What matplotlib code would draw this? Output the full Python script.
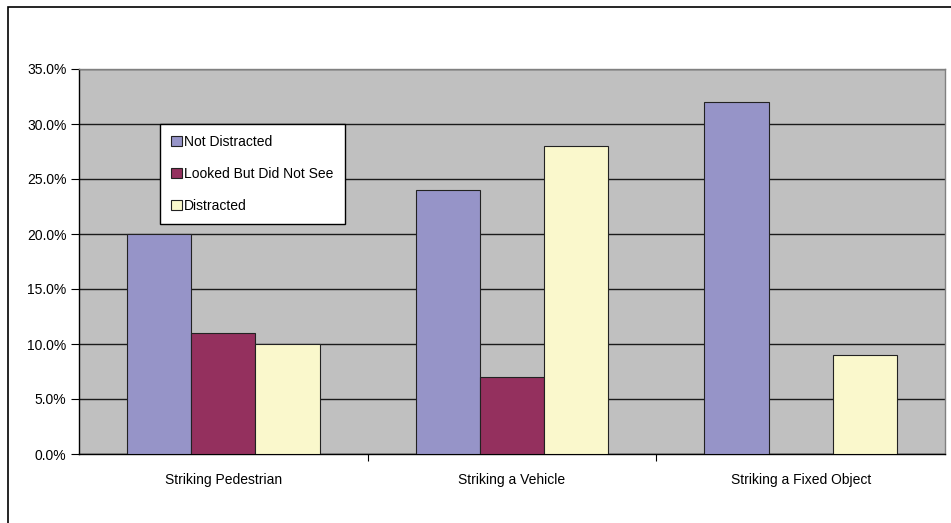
import numpy as np
import matplotlib.pyplot as plt
from matplotlib.patches import Rectangle
from matplotlib.ticker import FuncFormatter

plt.rcParams['font.family'] = ['Liberation Sans', 'DejaVu Sans']

categories = ['Striking Pedestrian', 'Striking a Vehicle', 'Striking a Fixed Object']
series = ['Not Distracted', 'Looked But Did Not See', 'Distracted']
not_distracted = [20.0, 24.0, 32.0]
looked_not_see = [11.0, 7.0, 0.0]
distracted = [10.0, 28.0, 9.0]
colors = ['#9694C8', '#94305E', '#FAF8CC']

W, H = 951, 523
fig = plt.figure(figsize=(W / 100, H / 100), dpi=100)
fig.patch.set_facecolor('white')

# chart frame
fig.patches.append(Rectangle((8 / W, -0.1), 1.2, 1 - 7 / H + 0.1,
                             transform=fig.transFigure, fill=False,
                             edgecolor='black', linewidth=1.2))

ax = fig.add_axes([79 / W, 1 - 454 / H, (945 - 79) / W, (454 - 69) / H])
ax.set_facecolor('#C0C0C0')

x = np.arange(len(categories))
bw = 1 / 4.5
for i, (vals, name, c) in enumerate(zip([not_distracted, looked_not_see, distracted], series, colors)):
    ax.bar(x + (i - 1) * bw, vals, bw, color=c, edgecolor='#222222',
           linewidth=0.8, label=name, zorder=3)

ax.set_xlim(-0.5, len(categories) - 0.5)
ax.set_ylim(0, 35)
ax.set_yticks(np.arange(0, 36, 5))
ax.yaxis.set_major_formatter(FuncFormatter(lambda v, p: '%.1f%%' % v))
ax.yaxis.grid(True, color='#1a1a1a', linewidth=1.0, zorder=1)
ax.set_axisbelow(True)

ax.set_xticks(x)
ax.set_xticklabels(categories)
ax.set_xticks(np.arange(0.5, len(categories) - 0.5, 1), minor=True)
ax.tick_params(axis='x', which='major', length=0, pad=14, labelsize=10)
ax.tick_params(axis='x', which='minor', length=5, width=0.8, direction='out')
ax.tick_params(axis='y', length=6, width=0.8, pad=3, labelsize=10)

for s in ['left', 'bottom']:
    ax.spines[s].set_color('black')
    ax.spines[s].set_linewidth(1.0)
for s in ['top', 'right']:
    ax.spines[s].set_color('#808080')
    ax.spines[s].set_linewidth(1.0)

leg = ax.legend(loc='upper left', bbox_to_anchor=((160 - 79) / 866, (454 - 124) / 385),
                fontsize=10, frameon=True, fancybox=False, edgecolor='black',
                facecolor='white', framealpha=1.0,
                handlelength=0.75, handleheight=0.75, handletextpad=0.2,
                labelspacing=1.3, borderpad=0.8, borderaxespad=0)
leg.get_frame().set_linewidth(1.0)
leg.set_zorder(5)

fig.savefig('out.png', dpi=100)
